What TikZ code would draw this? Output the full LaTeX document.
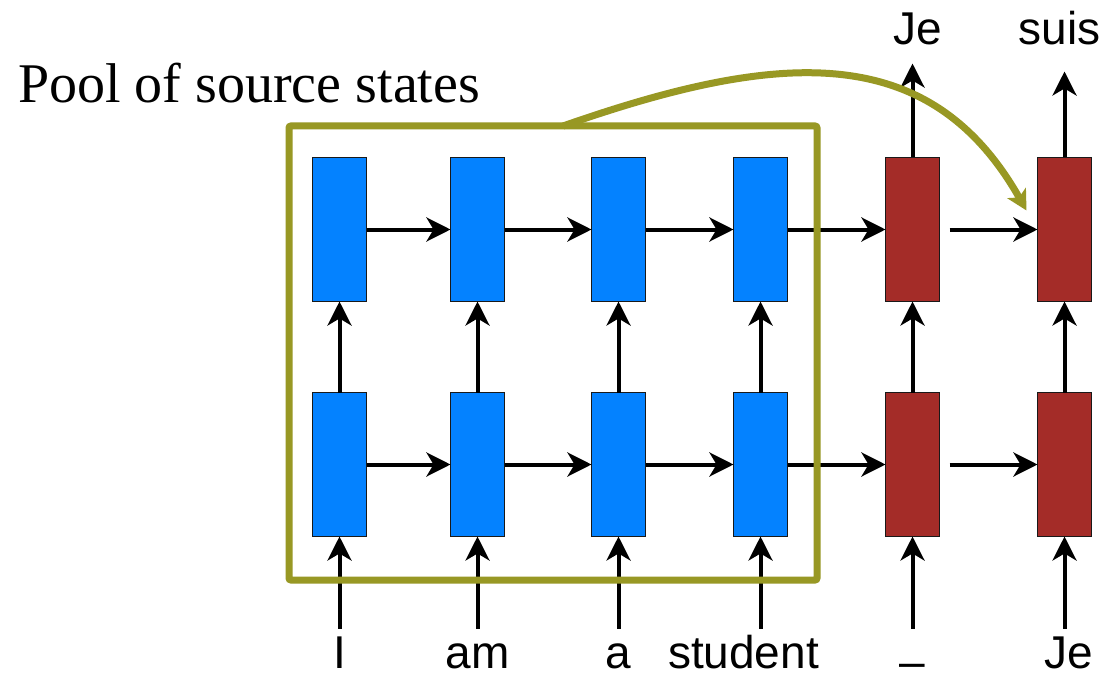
\documentclass[tikz,border=0pt]{standalone}
\usepackage{fontspec}
\setmainfont{Liberation Serif}
\setsansfont{Liberation Sans}
\usetikzlibrary{arrows.meta,positioning,fit}
\definecolor{encblue}{RGB}{4,130,255}
\definecolor{decred}{RGB}{164,44,40}
\definecolor{poolgreen}{RGB}{152,152,36}
\tikzstyle{enc} = [draw=black!90,line width=1.8pt,fill=encblue,rectangle,inner sep=0,outer sep=0,minimum width=54pt,minimum height=144pt]
\tikzstyle{dec} = [enc,fill=decred]
\tikzstyle{link} = [-{Stealth[length=24pt,width=24pt,inset=7pt]},line width=4pt]
\tikzstyle{word} = [font=\sffamily\fontsize{46}{50}\selectfont,inner sep=0,text depth=0pt,anchor=base]
\tikzstyle{pool} = [draw=poolgreen,line width=7pt]
\def \gap {91pt}
\def \tin {92pt}

\begin{document}
\begin{tikzpicture}[x=1pt,y=-1pt]
      \clip (0,0) rectangle (1101,674);
      \fill[white] (0,0) rectangle (1101,674);
      \coordinate (top) at (0,45);
      \coordinate (bot) at (0,668);
      % upper layer
      \node[enc] (h1) at (339.5,229.5) {};
      \node[enc,right=84pt of h1] (h2) {};
      \node[enc,right=87pt of h2] (h3) {};
      \node[enc,right=88pt of h3] (h4) {};
      \node[dec,right=98pt of h4] (h5) {};
      \node[dec,right=98pt of h5] (h6) {};
      % lower layer
      \node[enc,below=\gap of h1] (l1) {};
      \node[enc,below=\gap of h2] (l2) {};
      \node[enc,below=\gap of h3] (l3) {};
      \node[enc,below=\gap of h4] (l4) {};
      \node[dec,below=\gap of h5] (l5) {};
      \node[dec,below=\gap of h6] (l6) {};
      % words
      \node[word] (w1) at (l1.south |- bot) {I};
      \node[word] (w2) at (l2.south |- bot) {am};
      \node[word] (w3) at (l3.south |- bot) {a};
      \node[word,xshift=-17pt] (w4) at (l4.south |- bot) {student};
      \node[word,yshift=-9pt] (w5) at (l5.south |- bot) {–};
      \node[word,xshift=4pt] (w6) at (l6.south |- bot) {Je};
      \node[word,xshift=5pt] (y5) at (h5.north |- top) {Je};
      \node[word,xshift=-5pt] (y6) at (h6.north |- top) {suis};
      \node[font=\fontsize{56}{60}\selectfont,anchor=base west,inner sep=0] (title) at (18,103) {Pool of source states};
      % inputs and outputs
      \coordinate[below=\tin of l1] (in1);
      \coordinate[below=\tin of l2] (in2);
      \coordinate[below=\tin of l3] (in3);
      \coordinate[below=\tin of l4] (in4);
      \coordinate[below=\tin of l5] (in5);
      \coordinate[below=\tin of l6] (in6);
      \coordinate[above=94pt of h5] (out5);
      \coordinate[above=86pt of h6] (out6);
      \draw[link] (in1) -- (l1);
      \draw[link] (in2) -- (l2);
      \draw[link] (in3) -- (l3);
      \draw[link] (in4) -- (l4);
      \draw[link] (in5) -- (l5);
      \draw[link] (in6) -- (l6);
      \draw[link] (h5) -- (out5);
      \draw[link] (h6) -- (out6);
      % recurrent links
      \draw[link] (h1) -- (h2);
      \draw[link] (h2) -- (h3);
      \draw[link] (h3) -- (h4);
      \draw[link] (h4) -- (h5);
      \draw[link,shorten <=10pt] (h5) -- (h6);
      \draw[link] (l1) -- (l2);
      \draw[link] (l2) -- (l3);
      \draw[link] (l3) -- (l4);
      \draw[link] (l4) -- (l5);
      \draw[link,shorten <=10pt] (l5) -- (l6);
      % layer links
      \draw[link] (l1) -- (h1);
      \draw[link] (l2) -- (h2);
      \draw[link] (l3) -- (h3);
      \draw[link] (l4) -- (h4);
      \draw[link] (l5) -- (h5);
      \draw[link] (l6) -- (h6);
      % pool of source states
      \node[pool,fit={(289,126) (817,580)},inner sep=0,outer sep=0,rounded corners=2pt] (pool) {};
      \draw[pool,-{Stealth[length=20pt,width=21pt,inset=5pt]}] ([xshift=10pt]pool.north) .. controls (780,50) and (930,40) .. ([shift={(-11pt,-53pt)}]h6.north west);
    \end{tikzpicture}
\end{document}
